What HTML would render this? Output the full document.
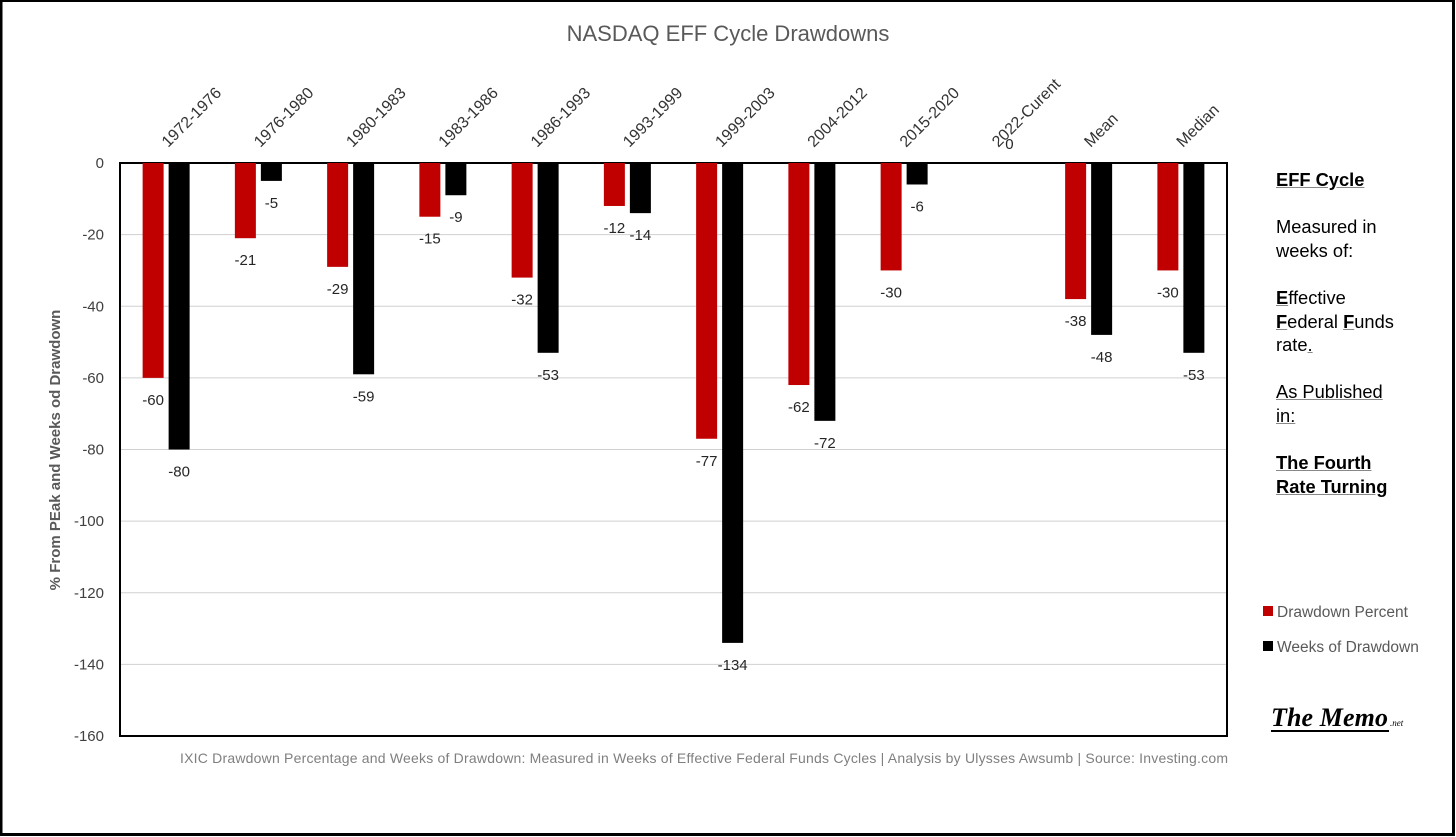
<!DOCTYPE html>
<html><head><meta charset="utf-8"><style>
html,body{margin:0;padding:0;background:#fff}
#wrap{position:relative;width:1456px;height:837px;overflow:hidden}
svg{position:absolute;left:0;top:0}
.side{position:absolute;left:1276px;top:168px;font-family:"Liberation Sans",sans-serif;font-size:18.3px;line-height:23.6px;color:#000}
.side u{text-decoration-color:#888}
</style></head><body>
<div id="wrap">
<svg id="chart" width="1456" height="837"></svg>
<div class="side">
<b><u>EFF Cycle</u></b><br><br>Measured in<br>weeks of:<br><br><b><u>E</u></b>ffective<br><b><u>F</u></b>ederal <b><u>F</u></b>unds<br>rate<u>.</u><br><br><u>As Published<br>in:</u><br><br><b><u>The Fourth<br>Rate Turning</u></b>
</div>
</div>
<script>
const categories=["1972-1976","1976-1980","1980-1983","1983-1986","1986-1993","1993-1999","1999-2003","2004-2012","2015-2020","2022-Curent","Mean","Median"];
const drawdownPercent=[-60,-21,-29,-15,-32,-12,-77,-62,-30,0,-38,-30];
const weeksOfDrawdown=[-80,-5,-59,-9,-53,-14,-134,-72,-6,0,-48,-53];
const yTicks=[0,-20,-40,-60,-80,-100,-120,-140,-160];
const NS="http://www.w3.org/2000/svg";
const svg=document.getElementById('chart');
const L=120,R=1227,T=163,B=736,yMin=-160,yMax=0;
const y=v=>T+(yMax-v)/(yMax-yMin)*(B-T);
const step=(R-L)/categories.length;
const xc=i=>L+step*(i+0.5);
function mk(t,a,txt){const e=document.createElementNS(NS,t);for(const k in a)e.setAttribute(k,a[k]);if(txt!==undefined)e.textContent=txt;svg.appendChild(e);return e;}
const F='"Liberation Sans",sans-serif';
let e=mk('rect',{x:1,y:0.5,width:1452.5,height:834,fill:'none',stroke:'#000','stroke-width':3});


e=mk('text',{x:728,y:41,'text-anchor':'middle','font-family':F,'font-size':22,fill:'#595959'},'NASDAQ EFF Cycle Drawdowns');


yTicks.forEach(t=>{
 if(t!==0&&t!==yMin){const g=mk('line',{x1:L,x2:R,y1:y(t),y2:y(t),stroke:'#d0d0d0','stroke-width':1});
 
 }
 const tx=mk('text',{x:104,y:y(t)+5,'text-anchor':'end','font-family':F,'font-size':15,fill:'#404040'},t);
 
 
});
const fr=mk('rect',{x:L,y:T,width:R-L,height:B-T,fill:'none',stroke:'#000','stroke-width':2});


e=mk('text',{transform:'translate(60,450) rotate(-90)','text-anchor':'middle','font-family':F,'font-size':15,'font-weight':'bold',fill:'#595959'},'% From PEak and Weeks od Drawdown');


const bw=21;
categories.forEach((c,i)=>{
 const cx=xc(i);
 const lab=mk('text',{transform:`translate(${cx+2},148) rotate(-45)`,'font-family':F,'font-size':16,fill:'#333'},c);
 
 
 [[drawdownPercent,'#c00000',-bw-2.5,'bar-drawdown-percent'],[weeksOfDrawdown,'#000',2.5,'bar-weeks-of-drawdown']].forEach(([arr,col,off,nm],k)=>{
  const v=arr[i];const bx=cx+off;
  const r=mk('rect',{x:bx,y:y(0),width:bw,height:Math.max(0,y(v)-y(0)),fill:col});
  
  
  if(v===0&&k===0)return;
  const ly=v===0?y(0)-14:y(v)+27;
  const t=mk('text',{x:bx+bw/2,y:ly,'text-anchor':'middle','font-family':F,'font-size':15,fill:'#262626'},v);
  
  
 });
});
e=mk('text',{x:180,y:763,'font-family':F,'font-size':14,fill:'#7f7f7f',textLength:1048},'IXIC Drawdown Percentage and Weeks of Drawdown: Measured in Weeks of Effective Federal Funds Cycles | Analysis by Ulysses Awsumb | Source: Investing.com');


[['#c00000','Drawdown Percent',611],['#000','Weeks of Drawdown',646]].forEach(([c,t,yy])=>{
 const s=mk('rect',{x:1263,y:yy-5,width:10,height:10,fill:c});
 
 
 const tx=mk('text',{x:1277,y:yy+6,'font-family':F,'font-size':15.5,fill:'#595959'},t);
 
 
});
e=mk('text',{x:1271,y:726,'font-family':'"Liberation Serif",serif','font-size':26,'font-style':'italic','font-weight':'bold',fill:'#000',textLength:117},'The Memo');


e=mk('text',{x:1390,y:726,'font-family':'"Liberation Serif",serif','font-size':9,'font-style':'italic',fill:'#000'},'.net');


e=mk('line',{x1:1271,x2:1389,y1:731,y2:731,stroke:'#000','stroke-width':2});


</script>
</body></html>
